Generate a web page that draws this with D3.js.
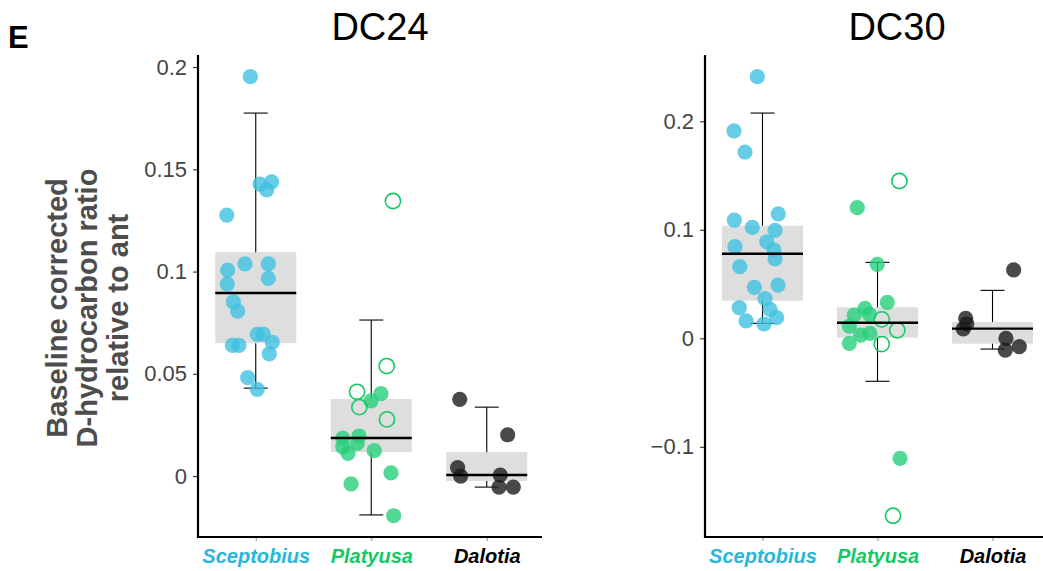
<!DOCTYPE html>
<html><head><meta charset="utf-8">
<script src="https://cdn.jsdelivr.net/npm/d3@7"></script>
<style>body{margin:0;background:#fff;} text{font-family:"Liberation Sans",Arial,sans-serif;}</style>
</head><body><svg id="c" width="1043" height="571"></svg>
<script>
const categories = ["Sceptobius", "Platyusa", "Dalotia"];
const catColors = ["#29b6d9", "#14c864", "#000000"];
const pointColors = ["#3ec0e0", "#27d07a", "#1c1c1c"];

// ---- DC24 ----
const dc24Ticks = [0, 0.05, 0.1, 0.15, 0.2];
const dc24TickLabels = ["0", "0.05", "0.1", "0.15", "0.2"];
const dc24SceptobiusVals = [0.1953,0.1428,0.1439,0.1399,0.1276,0.1038,0.1038,0.1007,0.0967,0.0939,0.0852,0.0807,0.0693,0.0694,0.0639,0.0639,0.0654,0.0597,0.0481,0.0424];
const dc24SceptobiusJit  = [-0.047,0.037,0.138,0.095,-0.251,-0.093,0.109,-0.243,0.109,-0.246,-0.194,-0.156,0.013,0.065,-0.203,-0.145,0.143,0.117,-0.070,0.013];
const dc24PlatyusaVals = [0.0403,0.0368,0.0186,0.0196,0.0143,0.0160,0.0111,0.0124,0.0016,-0.0038,-0.0194];
const dc24PlatyusaJit  = [0.084,-0.002,-0.247,-0.106,-0.247,-0.121,-0.201,0.026,0.171,-0.175,0.194];
const dc24PlatyusaOpenVals = [0.1345,0.0538,0.0412,0.0337,0.0277];
const dc24PlatyusaOpenJit  = [0.188,0.134,-0.123,-0.103,0.136];
const dc24DalotiaVals = [0.0375,0.0202,0.0041,0.0000,0.0005,-0.0054,-0.0054];
const dc24DalotiaJit  = [-0.234,0.181,-0.252,-0.226,0.117,0.106,0.230];
const dc24WhiskerLow = [0.0430, -0.0190, -0.0054];
const dc24BoxLow     = [0.0650, 0.0117, -0.0024];
const dc24Median     = [0.0895, 0.0186, 0.0005];
const dc24BoxHigh    = [0.1095, 0.0377, 0.0117];
const dc24WhiskerHigh= [0.1775, 0.0763, 0.0337];

// ---- DC30 ----
const dc30Ticks = [-0.1, 0, 0.1, 0.2];
const dc30TickLabels = ["\u22120.1", "0", "0.1", "0.2"];
const dc30SceptobiusVals = [0.2411,0.1911,0.1717,0.1090,0.1146,0.1023,0.0995,0.0845,0.0890,0.0814,0.0731,0.0660,0.0470,0.0491,0.0365,0.0282,0.0267,0.0160,0.0132,0.0190];
const dc30SceptobiusJit  = [-0.045,-0.248,-0.152,-0.245,0.137,-0.089,0.109,-0.239,0.037,0.100,0.109,-0.198,-0.071,0.135,0.022,-0.202,0.065,-0.143,0.013,0.123];
const dc30PlatyusaVals = [0.1204,0.0682,0.0332,0.0276,0.0215,0.0221,0.0113,0.0030,0.0046,-0.0046,-0.1106];
const dc30PlatyusaJit  = [-0.176,-0.002,0.085,-0.109,-0.202,-0.071,-0.245,-0.146,-0.065,-0.245,0.196];
const dc30PlatyusaOpenVals = [0.145,0.0175,0.0074,-0.0053,-0.1635];
const dc30PlatyusaOpenJit  = [0.190,0.037,0.172,0.037,0.135];
const dc30DalotiaVals = [0.0630,0.0184,0.0132,0.0086,0.0000,-0.0108,-0.0077];
const dc30DalotiaJit  = [0.184,-0.233,-0.224,-0.254,0.117,0.111,0.233];
const dc30WhiskerLow = [0.0138, -0.0396, -0.0099];
const dc30BoxLow     = [0.0347, 0.0006, -0.0050];
const dc30Median     = [0.0780, 0.0144, 0.0089];
const dc30BoxHigh    = [0.1038, 0.0286, 0.0150];
const dc30WhiskerHigh= [0.2076, 0.0700, 0.0442];

const svg = d3.select("#c");
const plotTop = 55, plotBottom = 537;

function drawPanel(cfg) {
  const g = svg.append("g");
  const y = d3.scaleLinear().domain(cfg.domain).range([plotBottom, plotTop]);
  const x = d3.scalePoint().domain(categories).range([cfg.x0, cfg.x1]).padding(0.5);
  const step = x.step();
  const boxW = 81, capW = 24;

  categories.forEach((c, i) => {
    const cx = x(c);
    g.append("rect").attr("x", cx - boxW/2).attr("width", boxW)
      .attr("y", y(cfg.boxHigh[i])).attr("height", y(cfg.boxLow[i]) - y(cfg.boxHigh[i]))
      .attr("fill", "#dedede");
    g.append("line").attr("x1", cx).attr("x2", cx).attr("y1", y(cfg.whHigh[i])).attr("y2", y(cfg.boxHigh[i]))
      .attr("stroke", "#000").attr("stroke-width", 1.1);
    g.append("line").attr("x1", cx).attr("x2", cx).attr("y1", y(cfg.boxLow[i])).attr("y2", y(cfg.whLow[i]))
      .attr("stroke", "#000").attr("stroke-width", 1.1);
    [cfg.whHigh[i], cfg.whLow[i]].forEach(v => {
      g.append("line").attr("x1", cx - capW/2).attr("x2", cx + capW/2).attr("y1", y(v)).attr("y2", y(v))
        .attr("stroke", "#000").attr("stroke-width", 1.1);
    });
  });

  cfg.groups.forEach(gr => {
    const ci = categories.indexOf(gr.cat);
    gr.vals.forEach((v, k) => {
      const c = g.append("circle").attr("cx", x(gr.cat) + gr.jit[k] * step).attr("cy", y(v)).attr("r", 7.6);
      if (gr.open) c.attr("fill", "none").attr("stroke", "#14c864").attr("stroke-width", 1.6);
      else c.attr("fill", pointColors[ci]).attr("fill-opacity", 0.8);
    });
  });

  categories.forEach((c, i) => {
    const cx = x(c);
    g.append("line").attr("x1", cx - boxW/2).attr("x2", cx + boxW/2)
      .attr("y1", y(cfg.median[i])).attr("y2", y(cfg.median[i]))
      .attr("stroke", "#000").attr("stroke-width", 2.4);
  });

  const ya = g.append("g").attr("transform", `translate(${cfg.x0},0)`)
    .call(d3.axisLeft(y).tickValues(cfg.ticks).tickFormat((d, i) => cfg.tickLabels[i]).tickSize(5).tickSizeOuter(0).tickPadding(6));
  ya.select(".domain").remove();
  ya.selectAll(".tick line").attr("stroke", "#333").attr("stroke-width", 1.1);
  ya.selectAll(".tick text").attr("fill", "#444").style("font-size", "22px").style("font-family", "Liberation Sans, Arial, sans-serif");
  g.append("line").attr("x1", cfg.x0).attr("x2", cfg.x0).attr("y1", plotTop).attr("y2", plotBottom + 1)
    .attr("stroke", "#000").attr("stroke-width", 2.2);

  const xa = g.append("g").attr("transform", `translate(0,${plotBottom})`)
    .call(d3.axisBottom(x).tickSize(4).tickSizeOuter(0).tickPadding(8));
  xa.select(".domain").remove();
  xa.selectAll(".tick line").attr("stroke", "#999").attr("stroke-width", 1.1);
  xa.selectAll(".tick text")
    .attr("fill", (d) => catColors[categories.indexOf(d)])
    .style("font-size", "20px").style("font-weight", "bold").style("font-style", "italic")
    .style("font-family", "Liberation Sans, Arial, sans-serif");
  g.append("line").attr("x1", cfg.x0 - 1).attr("x2", cfg.xAxisEnd).attr("y1", plotBottom).attr("y2", plotBottom)
    .attr("stroke", "#000").attr("stroke-width", 2.2);

  g.append("text").attr("x", cfg.titleX).attr("y", 40).attr("text-anchor", "middle")
    .style("font-size", "38px").attr("fill", "#000").text(cfg.title);
}

drawPanel({
  title: "DC24", titleX: 380, x0: 198, x1: 544.5, xAxisEnd: 542,
  domain: [-0.0298, 0.2059], ticks: dc24Ticks, tickLabels: dc24TickLabels,
  whLow: dc24WhiskerLow, boxLow: dc24BoxLow, median: dc24Median, boxHigh: dc24BoxHigh, whHigh: dc24WhiskerHigh,
  groups: [
    {cat: "Sceptobius", vals: dc24SceptobiusVals, jit: dc24SceptobiusJit},
    {cat: "Platyusa", vals: dc24PlatyusaVals, jit: dc24PlatyusaJit},
    {cat: "Platyusa", vals: dc24PlatyusaOpenVals, jit: dc24PlatyusaOpenJit, open: true},
    {cat: "Dalotia", vals: dc24DalotiaVals, jit: dc24DalotiaJit}
  ]
});
drawPanel({
  title: "DC30", titleX: 897, x0: 705, x1: 1050, xAxisEnd: 1043,
  domain: [-0.1831, 0.2611], ticks: dc30Ticks, tickLabels: dc30TickLabels,
  whLow: dc30WhiskerLow, boxLow: dc30BoxLow, median: dc30Median, boxHigh: dc30BoxHigh, whHigh: dc30WhiskerHigh,
  groups: [
    {cat: "Sceptobius", vals: dc30SceptobiusVals, jit: dc30SceptobiusJit},
    {cat: "Platyusa", vals: dc30PlatyusaVals, jit: dc30PlatyusaJit},
    {cat: "Platyusa", vals: dc30PlatyusaOpenVals, jit: dc30PlatyusaOpenJit, open: true},
    {cat: "Dalotia", vals: dc30DalotiaVals, jit: dc30DalotiaJit}
  ]
});

svg.append("text").attr("x", 8).attr("y", 48).style("font-size", "31px").style("font-weight", "bold").attr("fill", "#000").text("E");

const yTitle = ["Baseline corrected", "D-hydrocarbon ratio", "relative to ant"];
const yt = svg.append("text").attr("transform", "translate(87,308) rotate(-90)")
  .attr("text-anchor", "middle").attr("fill", "#4d4d4d")
  .style("font-size", "29px").style("font-weight", "bold");
yTitle.forEach((t, i) => {
  yt.append("tspan").attr("x", 0).attr("y", (i - 1) * 30.5 + 10).text(t);
});
</script>
</body></html>
